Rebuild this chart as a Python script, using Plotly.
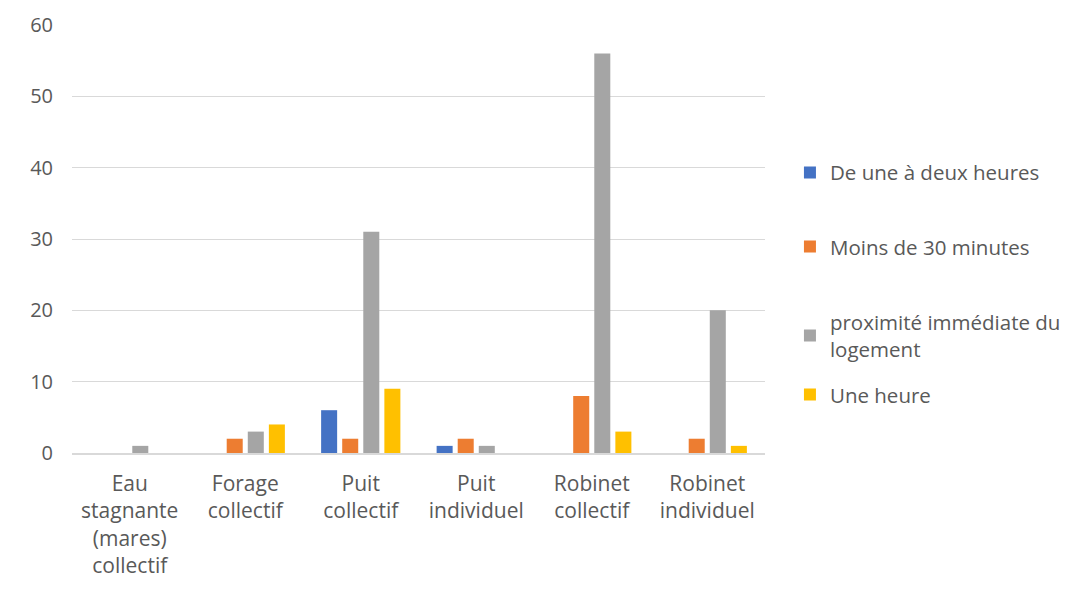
import plotly.graph_objects as go

categories = [
    "Eau<br>stagnante<br>(mares)<br>collectif",
    "Forage<br>collectif",
    "Puit<br>collectif",
    "Puit<br>individuel",
    "Robinet<br>collectif",
    "Robinet<br>individuel",
]
series_names = [
    "De une à deux heures",
    "Moins de 30 minutes",
    "proximité immédiate du<br>logement",
    "Une heure",
]
de_une_a_deux = [0, 0, 6, 1, 0, 0]
moins_30 = [0, 2, 2, 2, 8, 2]
proximite = [1, 3, 31, 1, 56, 20]
une_heure = [0, 4, 9, 0, 3, 1]
y_ticks = [0, 10, 20, 30, 40, 50, 60]

colors = ["#4472C4", "#ED7D31", "#A5A5A5", "#FFC000"]
text_color = "#595959"
font_family = "Open Sans, Liberation Sans, sans-serif"

# one legend per series so each entry can sit where Excel put it
legend_ids = ["legend", "legend2", "legend3", "legend4"]
legend_y = [0.655, 0.482, 0.274, 0.136]

fig = go.Figure()
for i, (name, vals) in enumerate(zip(series_names, [de_une_a_deux, moins_30, proximite, une_heure])):
    fig.add_trace(
        go.Bar(
            x=categories,
            y=vals,
            name=name,
            marker=dict(color=colors[i], line=dict(width=0)),
            legend=legend_ids[i],
        )
    )

legend_common = dict(
    x=1.036,
    xanchor="left",
    yanchor="middle",
    font=dict(family=font_family, size=20.5, color=text_color),
    itemwidth=30,
    bgcolor="rgba(0,0,0,0)",
)

# the page body has an 8px margin, so the figure is drawn 8px smaller
fig.update_layout(
    width=1068,
    height=584,
    paper_bgcolor="white",
    plot_bgcolor="white",
    margin=dict(l=64, r=311, t=17, b=139, autoexpand=False),
    barmode="group",
    bargap=0.27,
    bargroupgap=0.24,
    font=dict(family=font_family, size=20, color=text_color),
    showlegend=True,
    legend=dict(legend_common, y=legend_y[0]),
    legend2=dict(legend_common, y=legend_y[1]),
    legend3=dict(legend_common, y=legend_y[2]),
    legend4=dict(legend_common, y=legend_y[3]),
    xaxis=dict(
        automargin=False,
        showgrid=False,
        showline=True,
        linecolor="#D9D9D9",
        linewidth=1.5,
        ticks="",
        ticklabelstandoff=11,
        tickfont=dict(size=21, color=text_color),
    ),
    yaxis=dict(
        automargin=False,
        range=[0, 60],
        tickvals=y_ticks,
        showgrid=True,
        gridcolor="#D9D9D9",
        gridwidth=1,
        zeroline=False,
        showline=False,
        ticks="",
        ticklabelstandoff=18,
        tickfont=dict(size=20, color=text_color),
    ),
)

fig.write_html("out.html")
